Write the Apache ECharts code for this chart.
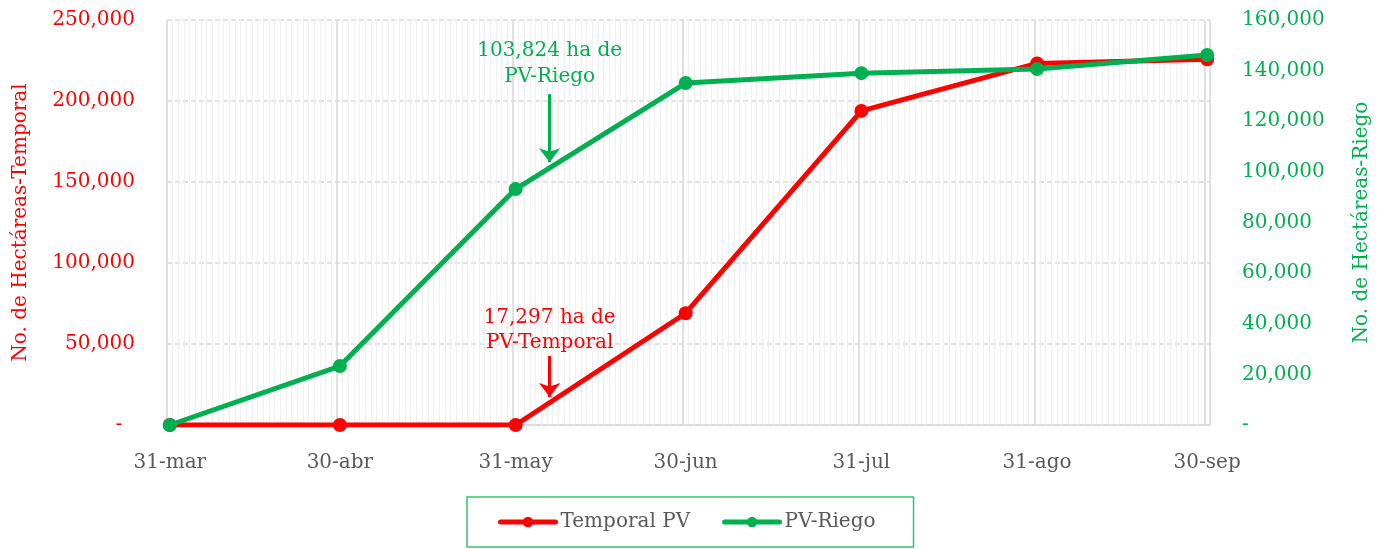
<!DOCTYPE html>
<html>
<head>
<meta charset="utf-8">
<script src="https://cdn.jsdelivr.net/npm/echarts@6/dist/echarts.min.js"></script>
<style>
  html, body { margin: 0; padding: 0; background: #fff; }
  #chart { width: 1382px; height: 549px; }
</style>
</head>
<body>
<div id="chart"></div>
<script>
// fechas de corte (fin de mes) y valores acumulados
const fechas = ['31-mar', '30-abr', '31-may', '30-jun', '31-jul', '31-ago', '30-sep'];
const temporalPV = [0, 0, 0, 69000, 193900, 223200, 225800];
const pvRiego = [0, 23300, 93200, 135100, 139000, 140600, 146200];

// anotaciones (flechas)
const notaRiego = { fecha: '6-jun', texto: '103,824 ha de\nPV-Riego', valor: 103824, inicio: 130700, textoY: 142600 };
const notaTemporal = { fecha: '6-jun', texto: '17,297 ha de\nPV-Temporal', valor: 17297, inicio: 42600, textoY: 58300 };

const meses = ['ene', 'feb', 'mar', 'abr', 'may', 'jun', 'jul', 'ago', 'sep', 'oct', 'nov', 'dic'];

// eje diario de 31-mar a 30-sep
const dias = [];
for (let d = new Date(Date.UTC(2021, 2, 31)); d <= new Date(Date.UTC(2021, 8, 30)); d.setUTCDate(d.getUTCDate() + 1)) {
  dias.push(d.getUTCDate() + '-' + meses[d.getUTCMonth()]);
}
const marcas = new Set(fechas);

const ROJO = '#ff0000';
const VERDE = '#00b050';
const GRIS = '#595959';
const FUENTE = 'DejaVu Serif';

const fmt = function (v) {
  return v === 0 ? '-' : v.toLocaleString('en-US');
};

const chart = echarts.init(document.getElementById('chart'));
chart.setOption({
  animation: false,
  textStyle: { fontFamily: FUENTE },
  grid: { left: 167, right: 172, top: 20, bottom: 124 },
  legend: {
    left: 467,
    top: 497,
    padding: [15, 38, 15, 31],
    borderColor: '#33c46a',
    borderWidth: 1.5,
    itemWidth: 55,
    itemHeight: 13,
    itemGap: 32,
    lineStyle: { width: 5, cap: 'round' },
    textStyle: { color: GRIS, fontSize: 20, fontFamily: FUENTE },
    data: ['Temporal PV', 'PV-Riego']
  },
  xAxis: [
    {
      type: 'category',
      data: dias,
      boundaryGap: true,
      axisLine: { lineStyle: { color: '#d9d9d9', width: 1.5 } },
      axisTick: {
        length: 9,
        interval: function (i, v) { return marcas.has(v); },
        lineStyle: { color: '#d9d9d9', width: 1.5 }
      },
      axisLabel: {
        interval: function (i, v) { return marcas.has(v); },
        color: GRIS,
        fontSize: 20,
        fontFamily: FUENTE,
        margin: 28
      },
      splitLine: {
        show: true,
        interval: function (i, v) { return marcas.has(v); },
        lineStyle: { color: '#d9d9d9', width: 1.5 }
      },
      z: 3
    },
    {
      type: 'category',
      data: dias,
      boundaryGap: true,
      position: 'bottom',
      axisLine: { show: false },
      axisTick: { show: false },
      axisLabel: { show: false },
      splitLine: { show: true, interval: 0, lineStyle: { color: '#efefef', width: 1 } }
    }
  ],
  yAxis: [
    {
      type: 'value',
      min: 0,
      max: 250000,
      interval: 50000,
      name: 'No. de Hectáreas-Temporal',
      nameLocation: 'middle',
      nameGap: 136,
      nameTextStyle: { color: ROJO, fontSize: 20, fontFamily: FUENTE },
      axisLine: { show: false },
      axisTick: { show: false },
      axisLabel: {
        color: ROJO,
        fontSize: 20,
        fontFamily: FUENTE,
        margin: 32,
        formatter: function (v) { return v === 0 ? '-  ' : fmt(v); }
      },
      splitLine: { lineStyle: { color: '#d9d9d9', type: [5, 3], width: 1.5 } }
    },
    {
      type: 'value',
      position: 'right',
      min: 0,
      max: 160000,
      interval: 20000,
      name: 'No. de Hectáreas-Riego',
      nameLocation: 'middle',
      nameGap: 142,
      nameTextStyle: { color: VERDE, fontSize: 20, fontFamily: FUENTE },
      axisLine: { show: false },
      axisTick: { show: false },
      axisLabel: { color: VERDE, fontSize: 20, fontFamily: FUENTE, margin: 32, formatter: fmt },
      splitLine: { show: false }
    }
  ],
  series: [
    {
      name: 'Temporal PV',
      type: 'line',
      yAxisIndex: 0,
      data: fechas.map(function (f, i) { return [f, temporalPV[i]]; }),
      symbol: 'circle',
      symbolSize: 14,
      lineStyle: { color: ROJO, width: 5 },
      itemStyle: { color: ROJO },
      z: 5,
      markLine: {
        silent: true,
        symbol: ['none', 'arrow'],
        symbolSize: [16, 14],
        label: { show: false },
        lineStyle: { color: ROJO, width: 3, type: 'solid' },
        data: [[
          { coord: [notaTemporal.fecha, notaTemporal.inicio] },
          { coord: [notaTemporal.fecha, notaTemporal.valor] }
        ]]
      },
      markPoint: {
        silent: true,
        symbol: 'circle',
        symbolSize: 1,
        itemStyle: { color: 'rgba(0,0,0,0)' },
        label: {
          show: true,
          position: 'inside',
          color: ROJO,
          fontSize: 20,
          lineHeight: 25,
          fontFamily: FUENTE,
          formatter: notaTemporal.texto
        },
        data: [{ coord: [notaTemporal.fecha, notaTemporal.textoY] }]
      }
    },
    {
      name: 'PV-Riego',
      type: 'line',
      yAxisIndex: 1,
      data: fechas.map(function (f, i) { return [f, pvRiego[i]]; }),
      symbol: 'circle',
      symbolSize: 14,
      lineStyle: { color: VERDE, width: 5 },
      itemStyle: { color: VERDE },
      z: 6,
      markLine: {
        silent: true,
        symbol: ['none', 'arrow'],
        symbolSize: [16, 14],
        label: { show: false },
        lineStyle: { color: VERDE, width: 3, type: 'solid' },
        data: [[
          { coord: [notaRiego.fecha, notaRiego.inicio] },
          { coord: [notaRiego.fecha, notaRiego.valor] }
        ]]
      },
      markPoint: {
        silent: true,
        symbol: 'circle',
        symbolSize: 1,
        itemStyle: { color: 'rgba(0,0,0,0)' },
        label: {
          show: true,
          position: 'inside',
          color: VERDE,
          fontSize: 20,
          lineHeight: 26,
          fontFamily: FUENTE,
          formatter: notaRiego.texto
        },
        data: [{ coord: [notaRiego.fecha, notaRiego.textoY] }]
      }
    }
  ]
});
</script>
</body>
</html>
